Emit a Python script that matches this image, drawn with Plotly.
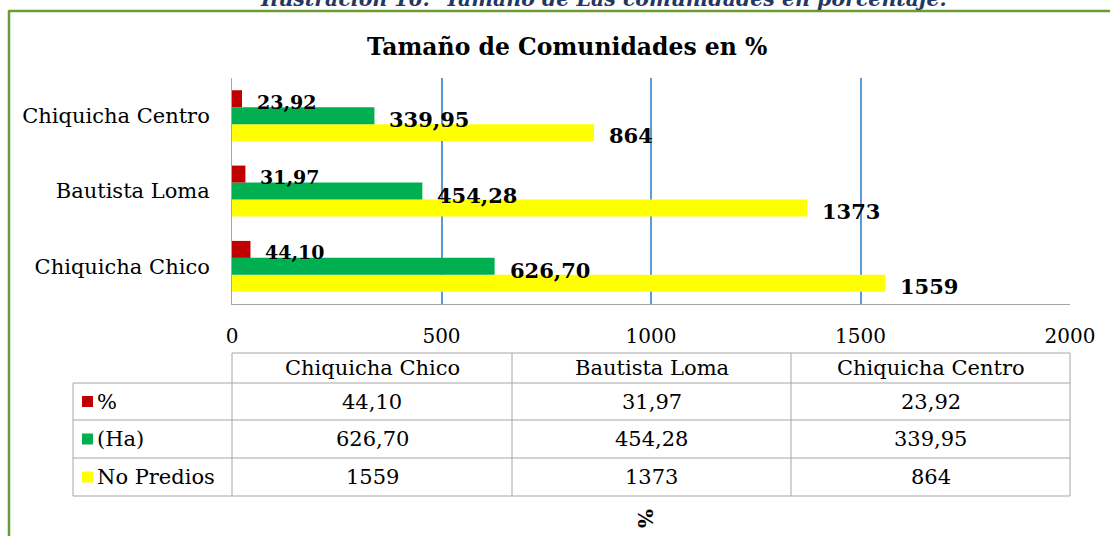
import plotly.graph_objects as go

# ---- data ----
categories = ["Chiquicha Chico", "Bautista Loma", "Chiquicha Centro"]
pct = [44.10, 31.97, 23.92]
hectareas = [626.70, 454.28, 339.95]
predios = [1559, 1373, 864]
series_names = ["%", "(Ha)", "No Predios"]
x_ticks = [0, 500, 1000, 1500, 2000]

title_text = "Tamaño de Comunidades en %"
caption_text = "Ilustración 16:  Tamaño de Las comunidades en porcentaje."
axis_title = "%"

# ---- style ----
FONT = "DejaVu Serif"
RED, GREEN, YELLOW = "#C00000", "#00B050", "#FFFF00"
GRID = "#5B9BD5"
TABLE_LINE = "#A6A6A6"
BORDER = "#6B9B37"
W, H = 1110, 536
L, R, T, B = 232, 1070, 78, 304


def px_x(p):
    return (p - L) / (R - L)


def px_y(p):
    return (B - p) / (B - T)


def fmt2(v):
    return f"{v:.2f}".replace(".", ",")


def fmt0(v):
    return f"{v:d}"


fig = go.Figure()
# first trace drawn at the bottom of each group
fig.add_trace(go.Bar(y=categories, x=predios, orientation="h", name=series_names[2],
                     marker=dict(color=YELLOW, line=dict(width=0))))
fig.add_trace(go.Bar(y=categories, x=hectareas, orientation="h", name=series_names[1],
                     marker=dict(color=GREEN, line=dict(width=0))))
fig.add_trace(go.Bar(y=categories, x=pct, orientation="h", name=series_names[0],
                     marker=dict(color=RED, line=dict(width=0))))

annotations = []
shapes = []

# data labels
label_specs = [
    (pct, fmt2, 19, 14),
    (hectareas, fmt2, 21, -4),
    (predios, fmt0, 21, -20),
]
for vals, f, size, ysh in label_specs:
    for c, v in zip(categories, vals):
        annotations.append(dict(x=v, y=c, xref="x", yref="y", text=f"<b>{f(v)}</b>",
                                showarrow=False, xanchor="left", yanchor="middle",
                                xshift=13, yshift=ysh,
                                font=dict(family=FONT, size=size, color="black")))

# title
annotations.append(dict(x=px_x(567), y=px_y(47), xref="paper", yref="paper",
                        text=f"<b>{title_text}</b>", showarrow=False,
                        xanchor="center", yanchor="middle",
                        font=dict(family=FONT, size=23.5, color="black")))
# caption (cut at top, as in the reference)
annotations.append(dict(x=px_x(603), y=px_y(13), xref="paper", yref="paper",
                        text=f"<b><i>{caption_text}</i></b>", showarrow=False,
                        xanchor="center", yanchor="bottom",
                        font=dict(family=FONT, size=20.5, color="#1F3864")))
# rotated axis title
annotations.append(dict(x=px_x(645), y=px_y(518), xref="paper", yref="paper",
                        text=f"<b>{axis_title}</b>", showarrow=False, textangle=90,
                        xanchor="center", yanchor="middle",
                        font=dict(family=FONT, size=20, color="black")))

# ---- data table ----
col_edges = [L, 512, 791, R]
left_edge = 73
row_edges = [353, 383, 420, 458, 496]


def hline(x0, x1, y):
    shapes.append(dict(type="line", xref="paper", yref="paper",
                       x0=px_x(x0), x1=px_x(x1), y0=px_y(y), y1=px_y(y),
                       line=dict(color=TABLE_LINE, width=1)))


def vline(x, y0, y1):
    shapes.append(dict(type="line", xref="paper", yref="paper",
                       x0=px_x(x), x1=px_x(x), y0=px_y(y0), y1=px_y(y1),
                       line=dict(color=TABLE_LINE, width=1)))


hline(L, R, row_edges[0])
for y in row_edges[1:]:
    hline(left_edge, R, y)
for x in col_edges:
    vline(x, row_edges[0], row_edges[-1])
vline(left_edge, row_edges[1], row_edges[-1])

cell_font = dict(family=FONT, size=21, color="black")
for i, c in enumerate(categories):
    cx = (col_edges[i] + col_edges[i + 1]) / 2
    annotations.append(dict(x=px_x(cx), y=px_y((row_edges[0] + row_edges[1]) / 2),
                            xref="paper", yref="paper", text=c, showarrow=False,
                            xanchor="center", yanchor="middle", font=cell_font))

table_rows = [(series_names[0], pct, fmt2, RED),
              (series_names[1], hectareas, fmt2, GREEN),
              (series_names[2], predios, fmt0, YELLOW)]
for r, (name, vals, f, col) in enumerate(table_rows):
    yc = (row_edges[r + 1] + row_edges[r + 2]) / 2
    shapes.append(dict(type="rect", xref="paper", yref="paper",
                       x0=px_x(82), x1=px_x(93), y0=px_y(yc - 5.5), y1=px_y(yc + 5.5),
                       fillcolor=col, line=dict(width=0)))
    annotations.append(dict(x=px_x(95), y=px_y(yc), xref="paper", yref="paper",
                            text=name, showarrow=False, xanchor="left", yanchor="middle",
                            font=cell_font))
    for i, v in enumerate(vals):
        cx = (col_edges[i] + col_edges[i + 1]) / 2
        annotations.append(dict(x=px_x(cx), y=px_y(yc), xref="paper", yref="paper",
                                text=f(v), showarrow=False, xanchor="center",
                                yanchor="middle", font=cell_font))

# green frame
shapes.append(dict(type="line", xref="paper", yref="paper",
                   x0=px_x(9), x1=px_x(1112), y0=px_y(11), y1=px_y(11),
                   line=dict(color=BORDER, width=2.5)))
shapes.append(dict(type="line", xref="paper", yref="paper",
                   x0=px_x(9), x1=px_x(9), y0=px_y(10), y1=px_y(540),
                   line=dict(color=BORDER, width=2.5)))

fig.update_layout(
    width=W, height=H,
    margin=dict(l=L, r=W - R, t=T, b=H - B, pad=0),
    paper_bgcolor="white", plot_bgcolor="white",
    barmode="group", bargap=0.325, bargroupgap=0,
    showlegend=False,
    annotations=annotations, shapes=shapes,
    font=dict(family=FONT, color="black"),
    xaxis=dict(range=[0, 2000], tickvals=x_ticks, ticktext=[str(t) for t in x_ticks],
               showgrid=True, gridcolor=GRID, gridwidth=1.5, zeroline=False,
               showline=True, linecolor=TABLE_LINE, linewidth=1, ticks="",
               ticklabelstandoff=14, tickfont=dict(family=FONT, size=20, color="black"),
               fixedrange=True),
    yaxis=dict(showgrid=False, zeroline=False, showline=True, linecolor=TABLE_LINE,
               linewidth=1, ticks="", ticklabelstandoff=17,
               tickfont=dict(family=FONT, size=21, color="black"), fixedrange=True),
)

fig.write_html(
    "out.html",
    config={"displayModeBar": False},
    post_script="document.body.style.margin='0';document.body.style.overflow='hidden';",
)
